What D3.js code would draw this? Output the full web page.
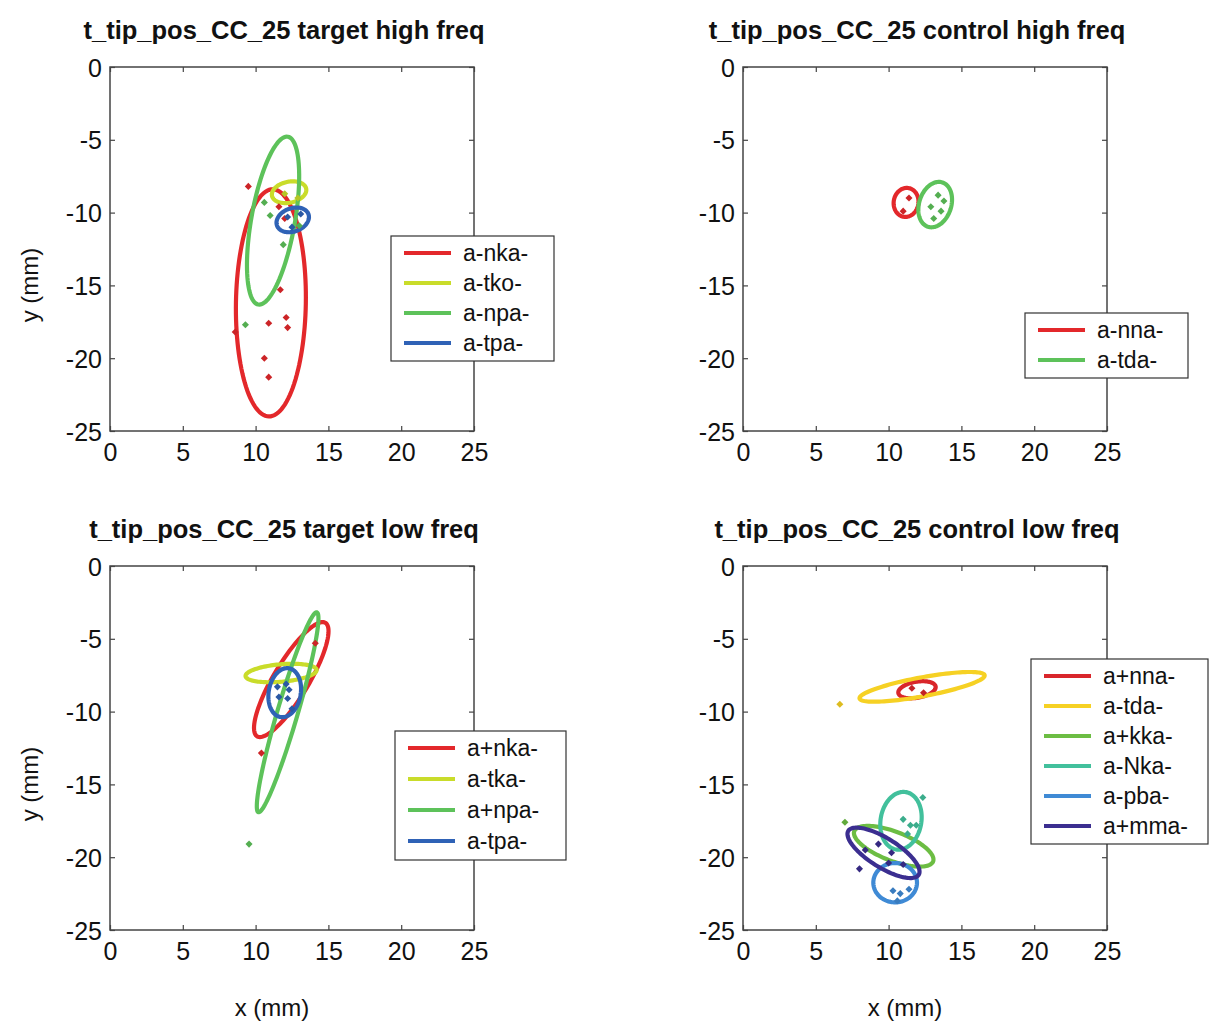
<!DOCTYPE html>
<html>
<head>
<meta charset="utf-8">
<script src="https://cdn.jsdelivr.net/npm/d3@7"></script>
<style>
  body { margin: 0; background: #fff; }
  svg { display: block; }
  text { font-family: "Liberation Sans", Arial, sans-serif; fill: #111; }
</style>
</head>
<body>
<div id="chart"></div>
<script>
// ---- data (all in mm) ----
var xTicks = [0, 5, 10, 15, 20, 25];
var yTicks = [0, -5, -10, -15, -20, -25];

var titles = ['t_tip_pos_CC_25 target high freq', 't_tip_pos_CC_25 control high freq',
              't_tip_pos_CC_25 target low freq', 't_tip_pos_CC_25 control low freq'];

// ellipses: [cx, cy, semi-major, semi-minor, angle deg]
var thfNames = ['a-nka-', 'a-tko-', 'a-npa-', 'a-tpa-'];
var thfEllipses = [[11.05, -16.2, 7.8, 2.4, 89], [12.3, -8.6, 1.2, 0.72, 12], [11.2, -10.55, 5.85, 1.5, 80], [12.55, -10.5, 1.15, 0.8, 20]];
var thfDots = [[9.5, -8.2, 0], [11.7, -15.3, 0], [10.9, -17.6, 0], [12.1, -17.2, 0], [12.2, -17.9, 0], [10.6, -20.0, 0], [10.9, -21.3, 0], [8.6, -18.2, 0],
               [11.6, -9.6, 0], [12.0, -10.4, 0], [9.3, -17.7, 2], [11.0, -10.2, 2], [11.9, -12.2, 2], [10.6, -9.3, 2], [13.0, -10.9, 2],
               [12.0, -8.7, 1], [12.9, -9.0, 1], [12.2, -10.3, 3], [13.1, -10.1, 3], [12.5, -11.0, 3]];

var chfNames = ['a-nna-', 'a-tda-'];
var chfEllipses = [[11.2, -9.3, 1.0, 0.85, 80], [13.2, -9.45, 1.6, 1.1, 72]];
var chfDots = [[11.4, -9.0, 0], [11.0, -9.9, 0], [13.4, -8.8, 1], [12.9, -9.6, 1], [13.6, -9.9, 1], [13.1, -10.4, 1], [13.8, -9.2, 1]];

var tlfNames = ['a+nka-', 'a-tka-', 'a+npa-', 'a-tpa-'];
var tlfEllipses = [[12.45, -7.8, 4.55, 1.2, 59], [11.75, -7.35, 2.45, 0.6, 5], [12.2, -10.05, 7.15, 0.7, 73.7], [12.0, -8.7, 1.7, 1.1, 80]];
var tlfDots = [[14.1, -5.3, 0], [10.4, -12.85, 0], [9.55, -19.1, 2], [11.5, -8.3, 3], [12.1, -8.1, 3], [12.3, -8.5, 3], [11.6, -9.0, 3], [12.2, -9.1, 3], [12.5, -9.8, 3]];

var clfNames = ['a+nna-', 'a-tda-', 'a+kka-', 'a-Nka-', 'a-pba-', 'a+mma-'];
var clfEllipses = [[11.95, -8.5, 1.3, 0.55, 10], [12.3, -8.3, 4.37, 0.65, 10.5], [10.35, -19.25, 2.9, 1.0, -21],
                   [10.85, -17.5, 2.0, 1.4, 80], [10.45, -21.75, 1.5, 1.35, 0], [9.65, -19.7, 2.85, 1.0, -32]];
var clfDots = [[11.6, -8.4, 0], [12.4, -8.7, 0], [6.65, -9.5, 1], [7.0, -17.6, 2], [12.35, -15.9, 3], [11.0, -17.4, 3], [11.5, -17.8, 3], [11.9, -17.8, 3],
               [11.3, -18.4, 3], [9.3, -19.1, 5], [8.4, -19.5, 5], [10.2, -19.7, 5], [11.0, -20.5, 5], [10.0, -20.4, 5], [8.0, -20.8, 5],
               [10.3, -22.3, 4], [10.8, -22.5, 4], [11.4, -22.2, 4], [10.6, -23.0, 4]];

// ---- styles ----
var thfColors = ['#e3282b', '#c9dc2a', '#5dc25a', '#2f62b6'];
var chfColors = ['#e3282b', '#5dc25a'];
var tlfColors = ['#e3282b', '#c9dc2a', '#5dc25a', '#2f62b6'];
var clfColors = ['#d9262b', '#f6d124', '#6cbd43', '#42c09c', '#3f8ad5', '#3b2e90'];

var W = 1209, H = 1021;
var svg = d3.select('#chart').append('svg').attr('width', W).attr('height', H);

var panels = [
  {left: 110, top: 67, names: thfNames, ell: thfEllipses, dots: thfDots, colors: thfColors, ylab: true, xlab: false,
   leg: {x: 391, y: 236, w: 163, rowH: 30}},
  {left: 743, top: 67, names: chfNames, ell: chfEllipses, dots: chfDots, colors: chfColors, ylab: false, xlab: false,
   leg: {x: 1025, y: 313, w: 163, rowH: 30}},
  {left: 110, top: 566, names: tlfNames, ell: tlfEllipses, dots: tlfDots, colors: tlfColors, ylab: true, xlab: true,
   leg: {x: 395, y: 731, w: 171, rowH: 31}},
  {left: 743, top: 566, names: clfNames, ell: clfEllipses, dots: clfDots, colors: clfColors, ylab: false, xlab: true,
   leg: {x: 1031, y: 659, w: 177, rowH: 30}}
];
var size = 364;

function ellipsePoints(e) {
  var th = e[4] * Math.PI / 180, pts = [];
  for (var i = 0; i <= 120; i++) {
    var t = i / 120 * 2 * Math.PI;
    var u = e[2] * Math.cos(t), v = e[3] * Math.sin(t);
    pts.push([e[0] + u * Math.cos(th) - v * Math.sin(th), e[1] + u * Math.sin(th) + v * Math.cos(th)]);
  }
  return pts;
}

panels.forEach(function (p, pi) {
  var x = d3.scaleLinear().domain([0, 25]).range([p.left, p.left + size]);
  var y = d3.scaleLinear().domain([-25, 0]).range([p.top + size, p.top]);
  var g = svg.append('g');

  // box
  g.append('rect').attr('x', p.left).attr('y', p.top).attr('width', size).attr('height', size)
    .attr('fill', 'none').attr('stroke', '#444').attr('stroke-width', 1.5);

  var ax = g.append('g').attr('transform', 'translate(0,' + (p.top + size) + ')')
    .call(d3.axisBottom(x).tickValues(xTicks).tickSize(-5).tickPadding(12).tickFormat(d3.format('d')));
  var ay = g.append('g').attr('transform', 'translate(' + p.left + ',0)')
    .call(d3.axisLeft(y).tickValues(yTicks).tickSize(-5).tickPadding(8).tickFormat(function (d) { return d === 0 ? '0' : String(d); }));
  g.append('g').attr('transform', 'translate(0,' + p.top + ')')
    .call(d3.axisTop(x).tickValues(xTicks).tickSize(-5).tickFormat(''));
  g.append('g').attr('transform', 'translate(' + (p.left + size) + ',0)')
    .call(d3.axisRight(y).tickValues(yTicks).tickSize(-5).tickFormat(''));
  g.selectAll('.domain').remove();
  g.selectAll('.tick line').attr('stroke', '#444').attr('stroke-width', 1.2);
  ax.selectAll('text').style('font-size', '25px').attr('fill', '#111');
  ay.selectAll('text').style('font-size', '25px').attr('fill', '#111').attr('dy', '0.36em');

  // ellipses
  var line = d3.line().x(function (d) { return x(d[0]); }).y(function (d) { return y(d[1]); });
  p.ell.forEach(function (e, i) {
    g.append('path').attr('d', line(ellipsePoints(e)) + 'Z')
      .attr('fill', 'none').attr('stroke', p.colors[i]).attr('stroke-width', 4.2);
  });
  // dots
  g.selectAll('.dot').data(p.dots).enter().append('rect')
    .attr('x', -2.5).attr('y', -2.5).attr('width', 5).attr('height', 5)
    .attr('transform', function (d) { return 'translate(' + x(d[0]) + ',' + y(d[1]) + ') rotate(45)'; })
    .attr('fill', function (d) { return d3.color(p.colors[d[2]]).darker(0.3); });

  // title
  svg.append('text').attr('x', p.left + size / 2 - 8).attr('y', p.top - 28)
    .attr('text-anchor', 'middle').style('font-size', '25.5px').style('font-weight', 'bold')
    .text(titles[pi]);

  if (p.ylab) {
    svg.append('text').attr('transform', 'translate(38,' + (p.top + 218) + ') rotate(-90)')
      .attr('text-anchor', 'middle').style('font-size', '24px').text('y (mm)');
  }
  if (p.xlab) {
    svg.append('text').attr('x', p.left + 162).attr('y', 1016)
      .attr('text-anchor', 'middle').style('font-size', '24px').text('x (mm)');
  }

  // legend
  var L = p.leg, n = p.names.length, hgt = n * L.rowH + 5;
  var lg = svg.append('g');
  lg.append('rect').attr('x', L.x).attr('y', L.y).attr('width', L.w).attr('height', hgt)
    .attr('fill', '#fff').attr('stroke', '#333').attr('stroke-width', 1.2);
  p.names.forEach(function (nm, i) {
    var cy = L.y + 17 + i * L.rowH;
    lg.append('line').attr('x1', L.x + 13).attr('x2', L.x + 60).attr('y1', cy).attr('y2', cy)
      .attr('stroke', p.colors[i]).attr('stroke-width', 4);
    lg.append('text').attr('x', L.x + 72).attr('y', cy).attr('dy', '0.36em')
      .style('font-size', '23px').text(nm);
  });
});
</script>
</body>
</html>
